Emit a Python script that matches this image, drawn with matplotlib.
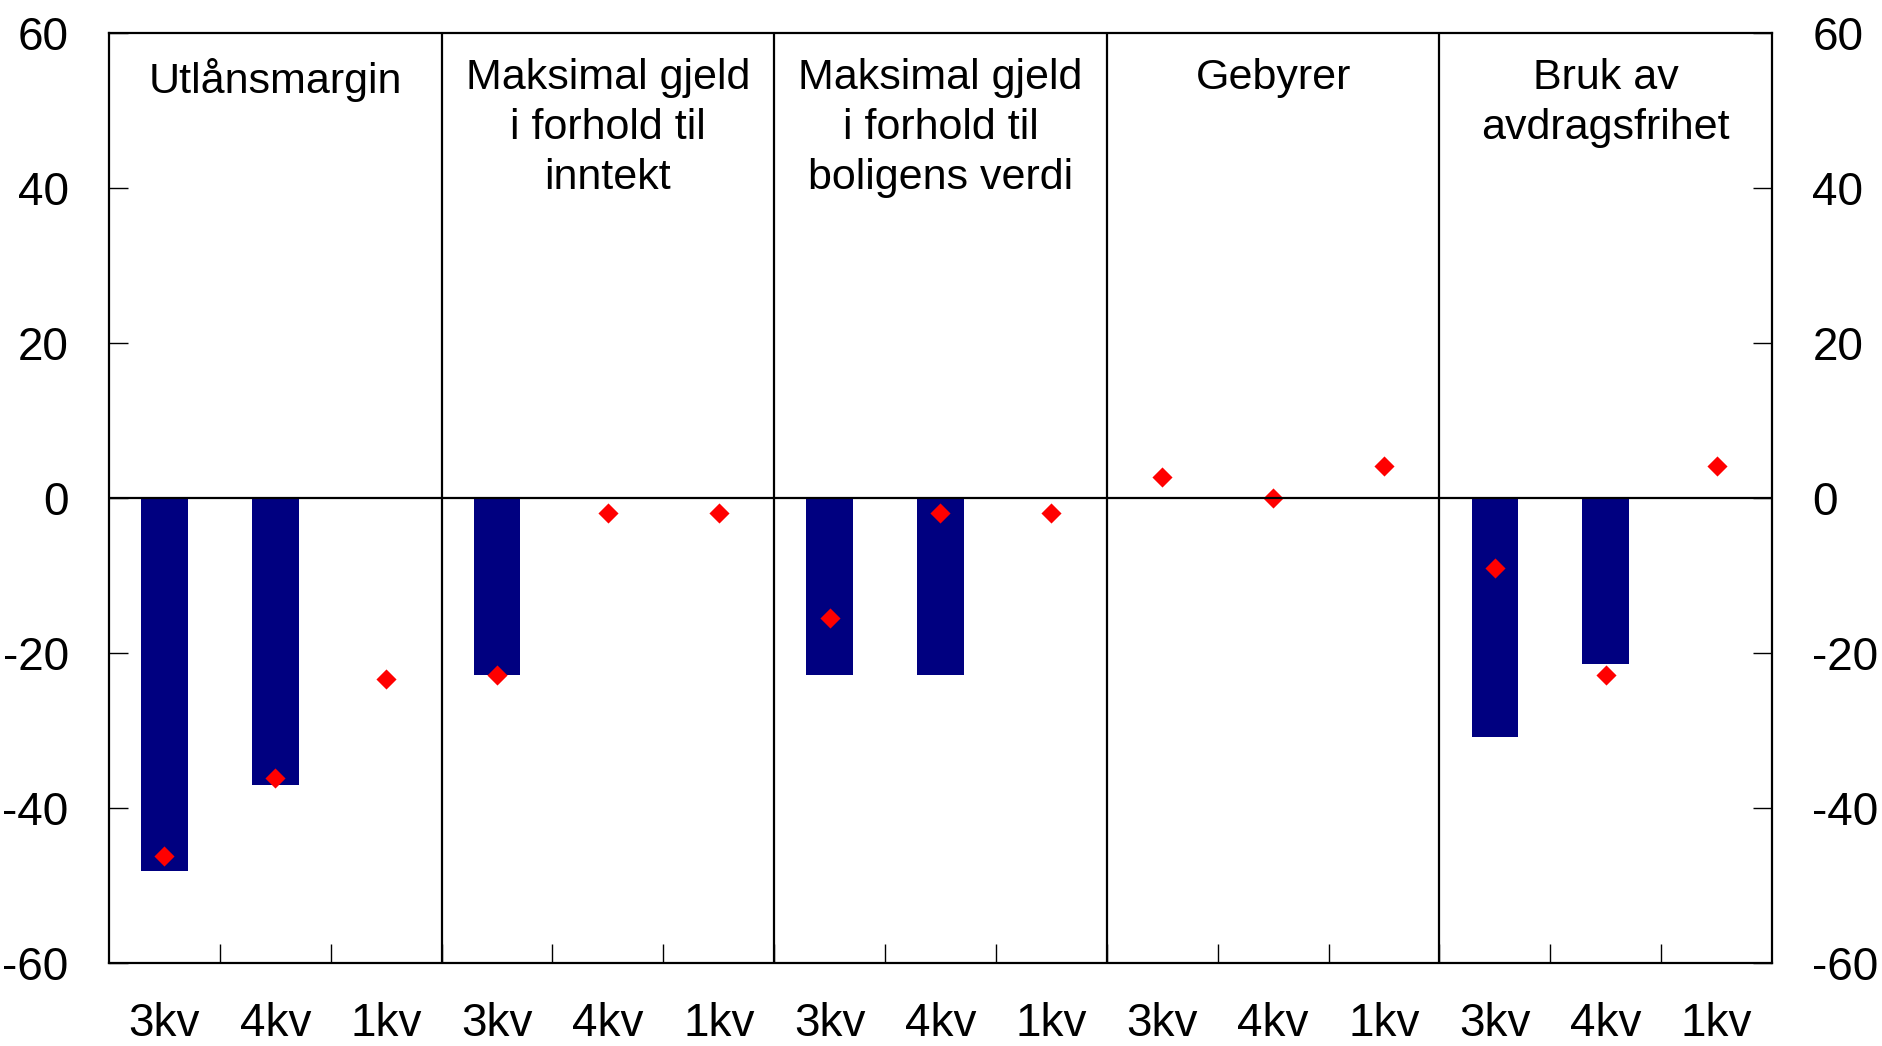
import matplotlib
matplotlib.use("Agg")
import matplotlib.pyplot as plt
import numpy as np

plt.rcParams['font.family'] = ['Liberation Sans', 'DejaVu Sans']

groups = ["Utlånsmargin", "Maksimal gjeld\ni forhold til\ninntekt",
          "Maksimal gjeld\ni forhold til\nboligens verdi", "Gebyrer",
          "Bruk av\navdragsfrihet"]
quarters = ["3kv", "4kv", "1kv"]
bars = [-48.1, -37.0, 0.0,
        -22.9, 0.0, 0.0,
        -22.9, -22.9, 0.0,
        0.0, 0.0, 0.0,
        -30.8, -21.4, 0.0]
diamonds = [-46.2, -36.1, -23.4,
            -22.9, -1.9, -1.9,
            -15.5, -1.9, -1.9,
            2.7, 0.0, 4.1,
            -9.0, -22.9, 4.1]
yticks = [-60, -40, -20, 0, 20, 40, 60]

fig = plt.figure(figsize=(18.83, 10.46), dpi=100)
ax = fig.add_axes([109/1883, 1 - 963/1046, (1772-109)/1883, (963-33)/1046])

n = len(bars)
x = np.arange(n)
ax.bar(x, bars, width=0.42, color='#000080', zorder=2)
ax.scatter(x, diamonds, marker='D', s=105, color='#ff0000', zorder=3, linewidths=0)
ax.axhline(0, color='black', lw=1.6, zorder=4)
for b in [2.5, 5.5, 8.5, 11.5]:
    ax.axvline(b, color='black', lw=1.6, zorder=4)

ax.set_xlim(-0.5, n - 0.5)
ax.set_ylim(-60, 60)
ax.set_yticks(yticks)
ax.set_yticklabels([str(v) for v in yticks])
ax.tick_params(axis='y', direction='in', length=14, width=1, pad=29, labelsize=33,
               right=True, labelright=True, left=True, labelleft=True)
ax.set_xticks(x)
ax.set_xticklabels(quarters * len(groups))
ax.set_xticks(np.arange(0.5, n - 1, 1), minor=True)
ax.tick_params(axis='x', which='major', length=0, pad=28, labelsize=33)
ax.tick_params(axis='x', which='minor', direction='in', length=14, width=1)
for s in ax.spines.values():
    s.set_linewidth(1.6)

for i, g in enumerate(groups):
    ax.text(3 * i + 1, 56.8, g, ha='center', va='top', fontsize=31,
            linespacing=1.33)

fig.savefig("out.png", dpi=100)
